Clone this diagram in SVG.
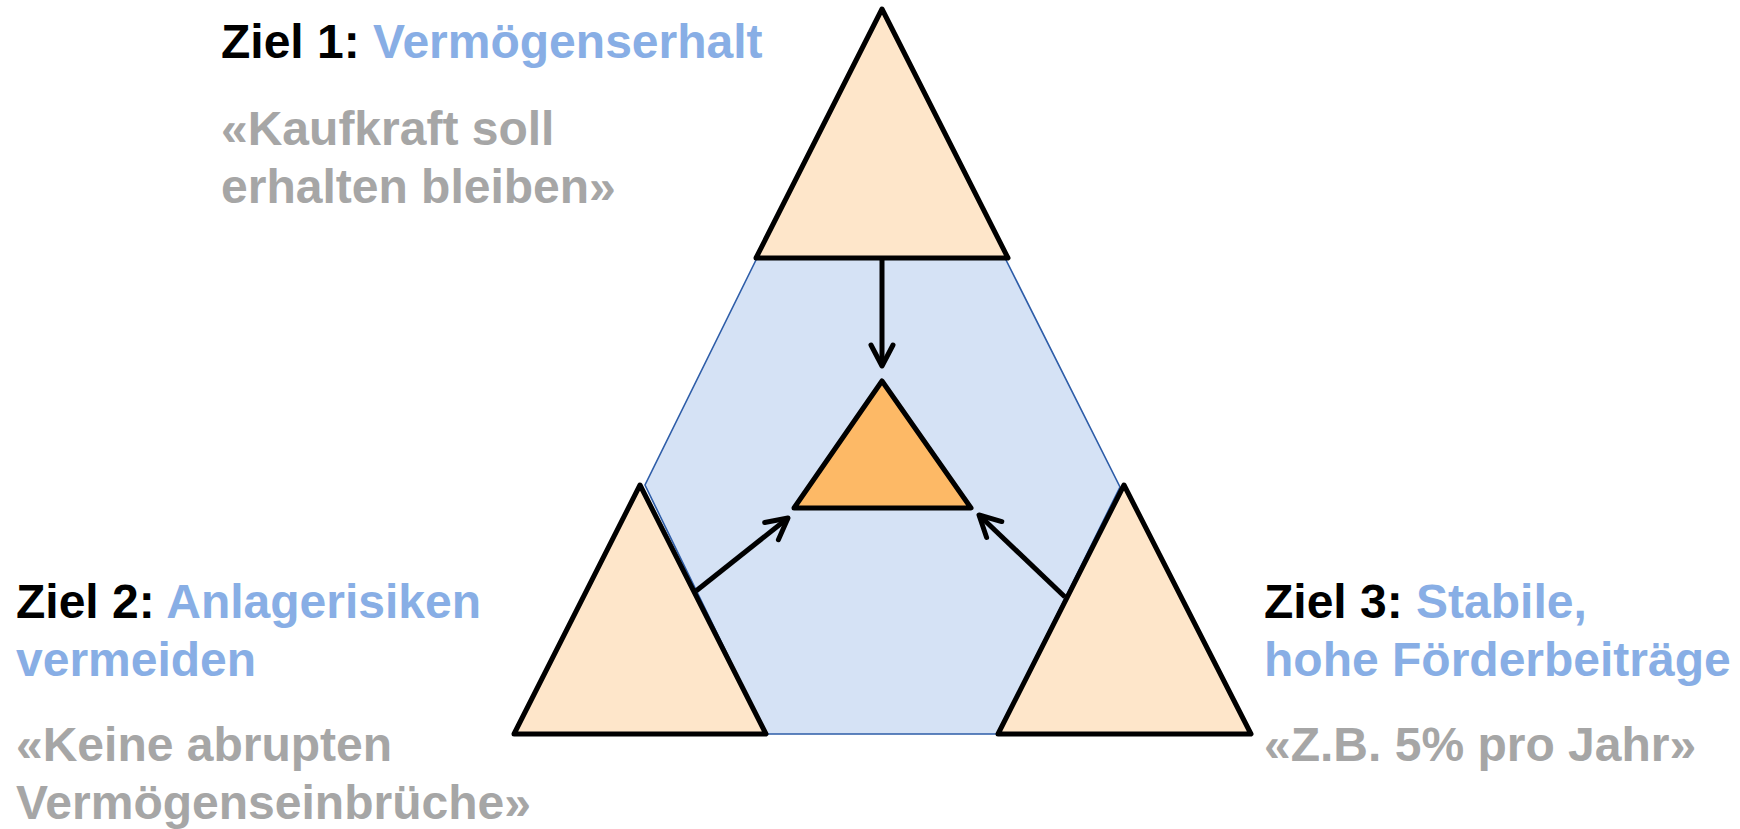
<svg xmlns="http://www.w3.org/2000/svg" width="1740" height="829" viewBox="0 0 1740 829">
  <style>
    .tri { fill: #FEE6CA; stroke: #000; stroke-width: 5; stroke-linejoin: round; }
    .core { fill: #FDB966; stroke: #000; stroke-width: 5; stroke-linejoin: round; }
    .hex { fill: #D5E2F5; stroke: #2E5DA8; stroke-width: 1.6; }
    .arrow { fill: none; stroke: #000; stroke-width: 5; }
    text { font-family: "Liberation Sans", Arial, sans-serif; font-weight: bold; font-size: 48px; }
    .k { fill: #000; }
    .b { fill: #88AEE5; }
    .g { fill: #A6A6A6; }
  </style>
  <defs>
    <marker id="head" markerUnits="userSpaceOnUse" viewBox="-30 -20 40 40" refX="0" refY="0" markerWidth="40" markerHeight="40" orient="auto" overflow="visible">
      <path d="M-21,-11 L0,0 L-21,11" fill="none" stroke="#000" stroke-width="5" stroke-linecap="round" stroke-linejoin="round"/>
    </marker>
  </defs>

  <g id="background-hexagon">
    <polygon class="hex" points="757,258 1005,258 1120,487 998,734 766,734 645,485"/>
  </g>

  <g id="goal1-triangle">
    <polygon class="tri" points="882,9 1008,258 756,258"/>
  </g>
  <g id="goal2-triangle">
    <polygon class="tri" points="640,485 766,734 514,734"/>
  </g>
  <g id="goal3-triangle">
    <polygon class="tri" points="1124,485 1251,734 998,734"/>
  </g>
  <g id="center-triangle">
    <polygon class="core" points="882,381 971,508 794,508"/>
  </g>

  <g id="connectors">
    <line class="arrow" x1="882" y1="260" x2="882" y2="366" marker-end="url(#head)"/>
    <line class="arrow" x1="696" y1="591" x2="788" y2="518" marker-end="url(#head)"/>
    <line class="arrow" x1="1065" y1="597" x2="979" y2="515" marker-end="url(#head)"/>
  </g>

  <g id="goal1-label">
    <text x="221" y="58"><tspan class="k">Ziel 1: </tspan><tspan class="b">Vermögenserhalt</tspan></text>
    <text class="g" x="221" y="145">«Kaufkraft soll</text>
    <text class="g" x="221" y="203">erhalten bleiben»</text>
  </g>

  <g id="goal2-label">
    <text x="16" y="618"><tspan class="k">Ziel 2: </tspan><tspan class="b">Anlagerisiken</tspan></text>
    <text class="b" x="16" y="676">vermeiden</text>
    <text class="g" x="16" y="761">«Keine abrupten</text>
    <text class="g" x="16" y="819">Vermögenseinbrüche»</text>
  </g>

  <g id="goal3-label">
    <text x="1264" y="618"><tspan class="k">Ziel 3: </tspan><tspan class="b">Stabile,</tspan></text>
    <text class="b" x="1264" y="676">hohe Förderbeiträge</text>
    <text class="g" x="1264" y="761">«Z.B. 5% pro Jahr»</text>
  </g>
</svg>
